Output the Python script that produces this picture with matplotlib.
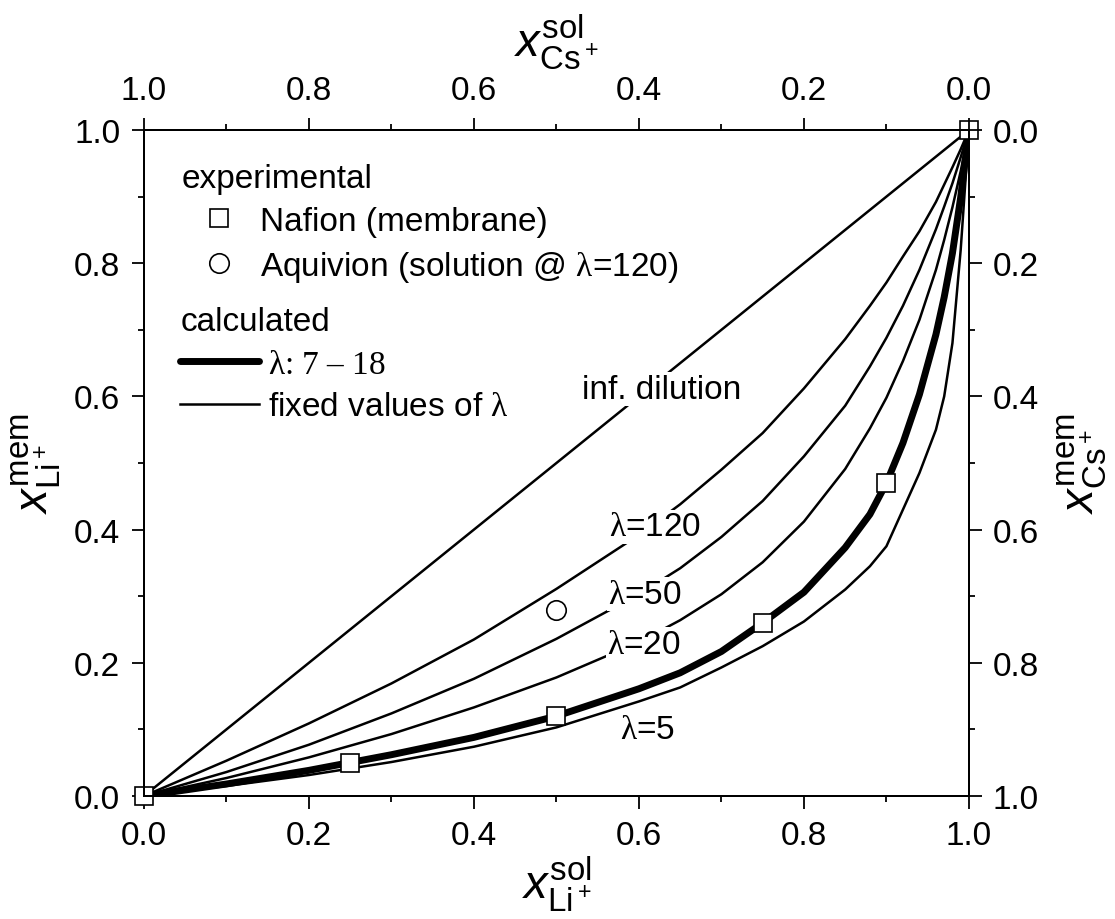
import matplotlib
matplotlib.use('Agg')
import matplotlib.pyplot as plt
from matplotlib.lines import Line2D
from matplotlib.ticker import MultipleLocator

# solution mole fraction of Li+ (x axis) and membrane mole fraction of Li+ (y axis)
x_calc = [0, 0.1, 0.2, 0.3, 0.4, 0.5, 0.6, 0.65, 0.7, 0.75, 0.8, 0.85, 0.88, 0.9,
          0.92, 0.94, 0.96, 0.97, 0.98, 0.99, 1.0]
y_inf = [0, 0.1, 0.2, 0.3, 0.4, 0.5, 0.6, 0.65, 0.7, 0.75, 0.8, 0.85, 0.88, 0.9,
         0.92, 0.94, 0.96, 0.97, 0.98, 0.99, 1.0]
y_l120 = [0, 0.053, 0.109, 0.169, 0.235, 0.311, 0.392, 0.438, 0.490, 0.545, 0.612, 0.686, 0.736, 0.771,
          0.810, 0.848, 0.892, 0.918, 0.944, 0.971, 1.0]
y_l50 = [0, 0.036, 0.077, 0.124, 0.176, 0.236, 0.303, 0.342, 0.389, 0.443, 0.510, 0.586, 0.645, 0.688,
         0.736, 0.790, 0.851, 0.885, 0.920, 0.959, 1.0]
y_l20 = [0, 0.027, 0.058, 0.093, 0.133, 0.178, 0.231, 0.264, 0.303, 0.351, 0.412, 0.491, 0.552, 0.598,
         0.653, 0.715, 0.790, 0.835, 0.884, 0.938, 1.0]
y_l7_18 = [0, 0.018, 0.0385, 0.062, 0.088, 0.120, 0.161, 0.185, 0.217, 0.260, 0.306, 0.373, 0.423, 0.470,
           0.530, 0.603, 0.693, 0.749, 0.815, 0.899, 1.0]
y_l5 = [0, 0.015, 0.0315, 0.051, 0.074, 0.103, 0.142, 0.163, 0.193, 0.225, 0.262, 0.310, 0.345, 0.375,
        0.430, 0.485, 0.550, 0.600, 0.680, 0.820, 1.0]

# experimental points
x_nafion = [0, 0.25, 0.5, 0.75, 0.9, 1.0]
y_nafion = [0, 0.05, 0.12, 0.26, 0.47, 1.0]
x_aquivion = [0.5]
y_aquivion = [0.28]

# curve labels: (text, x, y)
curve_labels = [
    ('inf. dilution', 0.627, 0.611),
    (r'$\mathrm{\lambda}$=120', 0.620, 0.404),
    (r'$\mathrm{\lambda}$=50', 0.607, 0.303),
    (r'$\mathrm{\lambda}$=20', 0.606, 0.228),
    (r'$\mathrm{\lambda}$=5', 0.610, 0.100),
]

plt.rcParams['font.family'] = ['Liberation Sans', 'DejaVu Sans']
plt.rcParams['mathtext.fontset'] = 'custom'
plt.rcParams['mathtext.rm'] = 'Liberation Serif'
plt.rcParams['mathtext.it'] = 'Liberation Sans:italic'
plt.rcParams['mathtext.sf'] = 'Liberation Sans'
plt.rcParams['axes.linewidth'] = 1.3

fs = 24
lw = 1.8

fig = plt.figure(figsize=(11.15, 9.2), dpi=100)
ax = fig.add_axes([0.1291, 0.1337, 0.7399, 0.7239])

for ys in [y_inf, y_l120, y_l50, y_l20, y_l5]:
    ax.plot(x_calc, ys, color='black', lw=lw, zorder=2, solid_joinstyle='round')
ax.plot(x_calc, y_l7_18, color='black', lw=5, zorder=2, solid_joinstyle='round')

for txt, tx, ty in curve_labels:
    ax.text(tx, ty, txt, fontsize=fs, ha='center', va='center', zorder=3,
            bbox=dict(facecolor='white', edgecolor='none', pad=1))

ax.plot(x_nafion, y_nafion, ls='none', marker='s', ms=13, mfc='white', mec='black',
        mew=1.2, zorder=5, clip_on=False)
ax.plot(x_aquivion, y_aquivion, ls='none', marker='o', ms=14, mfc='white', mec='black',
        mew=1.2, zorder=5)

ax.set_xlim(0, 1)
ax.set_ylim(0, 1)
ax.xaxis.set_major_locator(MultipleLocator(0.2))
ax.xaxis.set_minor_locator(MultipleLocator(0.1))
ax.yaxis.set_major_locator(MultipleLocator(0.2))
ax.yaxis.set_minor_locator(MultipleLocator(0.1))
ax.xaxis.set_major_formatter('{x:.1f}')
ax.yaxis.set_major_formatter('{x:.1f}')
ax.tick_params(which='both', direction='out', labelsize=fs, width=1.3, pad=8)
ax.tick_params(which='major', length=9)
ax.tick_params(which='minor', length=4.5)
ax.set_xlabel(r'$\mathit{x}^{\mathsf{sol}}_{\mathsf{Li^+}}$', fontsize=34, labelpad=2)
ax.set_ylabel(r'$\mathit{x}^{\mathsf{mem}}_{\mathsf{Li^+}}$', fontsize=34, labelpad=8)

# Cs+ axes (complementary fractions)
ax_top = ax.twiny()
ax_top.set_xlim(1, 0)
ax_top.xaxis.set_major_locator(MultipleLocator(0.2))
ax_top.xaxis.set_minor_locator(MultipleLocator(0.1))
ax_top.xaxis.set_major_formatter('{x:.1f}')
ax_top.tick_params(which='both', direction='out', labelsize=fs, width=1.3, pad=8)
ax_top.tick_params(which='major', length=9)
ax_top.tick_params(which='minor', length=4.5)
ax_top.set_xlabel(r'$\mathit{x}^{\mathsf{sol}}_{\mathsf{Cs^+}}$', fontsize=34, labelpad=14)

ax_right = ax.twinx()
ax_right.set_ylim(1, 0)
ax_right.yaxis.set_major_locator(MultipleLocator(0.2))
ax_right.yaxis.set_minor_locator(MultipleLocator(0.1))
ax_right.yaxis.set_major_formatter('{x:.1f}')
ax_right.tick_params(which='both', direction='out', labelsize=fs, width=1.3, pad=8)
ax_right.tick_params(which='major', length=9)
ax_right.tick_params(which='minor', length=4.5)
ax_right.set_ylabel(r'$\mathit{x}^{\mathsf{mem}}_{\mathsf{Cs^+}}$', fontsize=34, labelpad=12)

# legend
exp_handles = [
    Line2D([], [], ls='none', marker='s', ms=13, mfc='white', mec='black', mew=1.2),
    Line2D([], [], ls='none', marker='o', ms=14, mfc='white', mec='black', mew=1.2),
]
leg1 = ax_right.legend(exp_handles, ['Nafion (membrane)', r'Aquivion (solution @ $\mathrm{\lambda}$=120)'],
                       title='experimental', loc='upper left', bbox_to_anchor=(0.046, 0.95),
                       frameon=False, fontsize=fs, title_fontsize=fs, alignment='left',
                       handlelength=2.2, handletextpad=0.15, labelspacing=0.35,
                       borderpad=0, borderaxespad=0)
ax_right.add_artist(leg1)
calc_handles = [
    Line2D([], [], color='black', lw=5, solid_capstyle='round'),
    Line2D([], [], color='black', lw=lw),
]
leg2 = ax_right.legend(calc_handles, [r'$\mathrm{\lambda}$: 7 – 18', r'fixed values of $\mathrm{\lambda}$'],
                       title='calculated', loc='upper left', bbox_to_anchor=(0.044, 0.735),
                       frameon=False, fontsize=fs, title_fontsize=fs, alignment='left',
                       handlelength=2.35, handletextpad=0.27, labelspacing=0.35,
                       borderpad=0, borderaxespad=0)
leg2.get_texts()[0].set_fontfamily('Liberation Serif')

fig.savefig('out.png', dpi=100)
